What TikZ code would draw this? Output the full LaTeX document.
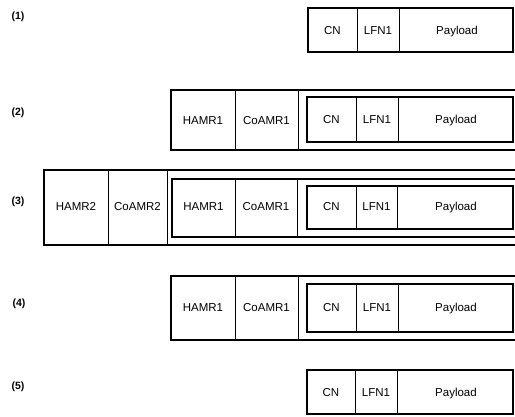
\documentclass[tikz,border=0pt]{standalone}
\usepackage{fontspec}
\setmainfont{Liberation Sans}
\begin{document}
\begin{tikzpicture}[x=1pt,y=-1pt,
  frame/.style={line width=1.2pt},
  sep/.style={line width=0.5pt},
  field/.style={font=\fontsize{11.5}{13}\selectfont, inner sep=0pt, text height=8.4pt, text depth=2.4pt},
  rowlbl/.style={font=\bfseries\fontsize{10.5}{12}\selectfont, inner sep=0pt}]
\useasboundingbox (0,0) rectangle (515,416);

% ---------- Row labels ----------
\node[rowlbl] (l1) at (18,17) {(1)};
\node[rowlbl] (l2) at (18,113) {(2)};
\node[rowlbl] (l3) at (18,202) {(3)};
\node[rowlbl] (l4) at (19,304) {(4)};
\node[rowlbl] (l5) at (18,387) {(5)};

% ---------- Row 1 ----------
\draw[frame] (308,8) rectangle (513,52);
\draw[sep] (357,8) -- (357,52) (399,8) -- (399,52);
\node[field] (r1cn) at (332.5,31) {CN};
\node[field] (r1lfn) at (378,31) {LFN1};
\node[field] (r1pl) at (457,31) {Payload};

% ---------- Row 2 ----------
\draw[frame] (517,90) -- (171,90) -- (171,150) -- (517,150);
\draw[sep] (235,90) -- (235,150) (298,90) -- (298,150);
\draw[frame] (307,97) rectangle (513,142);
\draw[sep] (356,97) -- (356,142) (398,97) -- (398,142);
\node[field] (r2ha) at (203,121) {HAMR1};
\node[field] (r2co) at (266.5,121) {CoAMR1};
\node[field] (r2cn) at (331.5,120) {CN};
\node[field] (r2lfn) at (377,120) {LFN1};
\node[field] (r2pl) at (456,120) {Payload};

% ---------- Row 3 ----------
\draw[frame] (517,170) -- (44,170) -- (44,245) -- (517,245);
\draw[sep] (108,170) -- (108,245) (167,170) -- (167,245);
\draw[frame] (517,179) -- (172,179) -- (172,237) -- (517,237);
\draw[sep] (235,179) -- (235,237) (297,179) -- (297,237);
\draw[frame] (307,186) rectangle (513,229);
\draw[sep] (356,186) -- (356,229) (397,186) -- (397,229);
\node[field] (r3ha2) at (76,207) {HAMR2};
\node[field] (r3co2) at (137.5,207) {CoAMR2};
\node[field] (r3ha1) at (203.5,207) {HAMR1};
\node[field] (r3co1) at (266,207) {CoAMR1};
\node[field] (r3cn) at (331.5,207) {CN};
\node[field] (r3lfn) at (376.5,207) {LFN1};
\node[field] (r3pl) at (456,207) {Payload};

% ---------- Row 4 ----------
\draw[frame] (517,276) -- (171,276) -- (171,340) -- (517,340);
\draw[sep] (235,276) -- (235,340) (298,276) -- (298,340);
\draw[frame] (307,284) rectangle (513,332);
\draw[sep] (356,284) -- (356,332) (398,284) -- (398,332);
\node[field] (r4ha) at (203,308) {HAMR1};
\node[field] (r4co) at (266.5,308) {CoAMR1};
\node[field] (r4cn) at (331.5,308) {CN};
\node[field] (r4lfn) at (377,308) {LFN1};
\node[field] (r4pl) at (456,308) {Payload};

% ---------- Row 5 ----------
\draw[frame] (307,370) rectangle (513,414);
\draw[sep] (355,370) -- (355,414) (397,370) -- (397,414);
\node[field] (r5cn) at (331,393) {CN};
\node[field] (r5lfn) at (376,393) {LFN1};
\node[field] (r5pl) at (456,393) {Payload};
\end{tikzpicture}
\end{document}
